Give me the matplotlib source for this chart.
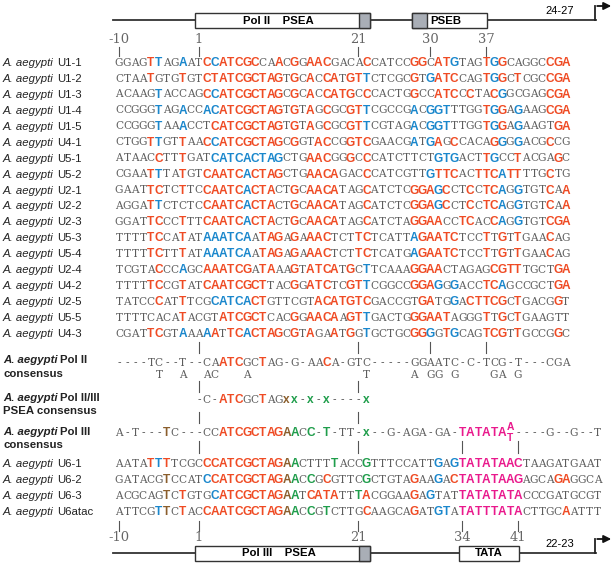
import matplotlib
matplotlib.use('Agg')
import matplotlib.pyplot as plt
from matplotlib.patches import Rectangle

# ---- data: Pol II type snRNA genes (57 nt, positions -10..47) ----
pol2_names = ['U1-1', 'U1-2', 'U1-3', 'U1-4', 'U1-5', 'U4-1', 'U5-1', 'U5-2',
              'U2-1', 'U2-2', 'U2-3', 'U5-3', 'U5-4', 'U2-4', 'U4-2', 'U2-5',
              'U5-5', 'U4-3']
pol2_seqs = [
    'GGAGTTAGAATCCATCGCCAACGGAACGACACCATCCGGCATGTAGTGGCAGGCCGA',
    'CTAATGTGTGTCTATCGCTAGTGCACCATGTTCTCGCGTGATCCAGTGGCTCGCCGA',
    'ACAAGTACCAGCCATCGCTAGCGCACCATGCCCACTGGCCATCCCTACGGCGAGCGA',
    'CCGGGTAGACCACATCGCTAGTGTAGCGCGTTCGCCGACGGTTTGGTGGAGAAGCGA',
    'CCGGGTAAACCTCATCGCTAGTGTAGCGCGTTCGTAGACGGTTTGGTGGAGAAGTGA',
    'CTGGTTGTTAACCATCGCTAGCGGTACCGGTCGAACGATGAGCCACAGGGGACGCCG',
    'ATAACCTTTGATCATCACTAGCTGAACGGGCCCATCTTCTGTGACTTGCCTACGAGC',
    'CGAATTTATGTCAATCACTAGCTGAACAGACCCATCGTTGTTCACTTCATTTTGCTG',
    'GAATTCTCTTCCAATCACTACTGCAACATAGCATCTCGGAGCCTCCTCAGGTGTCAA',
    'AGGATTCTCTCCAATCACTACTGCAACATAGCATCTCGGAGCCTCCTCAGGTGTCAA',
    'GGATTCCCTTTCAATCACTACTGCAACATAGCATCTAGGAACCTCACCAGGTGTCGA',
    'TTTTTCCATATAAATCAATAGAGAAACTCTTCTCATTAGAATCTCCTTGTTGAACAG',
    'TTTTTCTTTATAAATCAATAGAGAAACTCTTCTCATGAGAATCTCCTTGTTGAACAG',
    'TCGTACCCAGCAAATCGATAAAGTATCATGCTTCAAAGGAACTAGAGCGTTTGCTGA',
    'TTTTTCCGTATCAATCGCTTACGGATCTCGTTCGGCCGGAGGGACCTCAGCCGCTGA',
    'TATCCCATTTCGCATCACTGTTCGTACATGTCGACCGTGATGGACTTCGCTGACGGT',
    'TTTTCACATACGTATCGCTCACGGAACAAGTTGACTGGGAATAGGGTTGCTGAAGTT',
    'CGATTCGTAAAAATTCACTAGCGTAGAATGGTGCTGCGGGGTGCAGTCGTTGCCGGC',
]
# highlight code per base: . plain, r red, b blue, g green, n brown, m magenta
pol2_marks = [
    '....rb..b..rbrrrrr..r.r.rrr....r.....rr.rrb...rbr.....rrr',
    '....r...r..rrrrrrrrrr.r.r.rr.rrb.....r.brrr...rbr.r...rrr',
    '.....b.....rbrrrrrrrr.r.r.rrrr.r.....r..rrr.r..rb.....rrr',
    '.....b..b..bbrrrrrrrr.r.r.r..rrb.....b.bbb....rbr.b...rrr',
    '.....b..b...rrrrrrrrr.r.r.r..rrb.....b.bbb....rbr.b....rr',
    '....rb..r..rbrrrrrrrr.r..rr..rrr.....b.br.r....rb.b...r..',
    '.....r..r...bbbbbbbbb...rrr..r.r........bbb...rb..r....r.',
    '....rb..r..rrrrrbrrrr...rrrr...r.......brrr..rrrbrr...r..',
    '....rr..r..rrrrrbrrr..r.rrrr...r.....rrrbr..r.rrb.b...r.r',
    '....rb.....rrrrrbrrr..r.rrrr...r.....rrrbr..r.rrb.b...r.r',
    '....rr..r..rrrrrbrrr..r.rrrr...r.....rrrr..rr..rb.b...rrr',
    '....rr..r..bbbbbb.rrr.r.rrr...rr.....brrrrr...r.r.r...r..',
    '....rr..r..bbbbbb.rrr.r.rrr...rr.....brrrrr...r.r.r...r..',
    '.....r..b..rrrrrr.rr..r.rrrr.r.b.....rrrr......rrrr....rr',
    '....rr..r..rrrrrrrr...r.rrr..rrb.....rrrb.b...rrb......rr',
    '.....r..r...bbbbbrr......rrrrrrr......rr..b.rrrrr.r....r.',
    '........r....rrrrrr...r.rrrr.rrb.....rrrrr....r.r.r......',
    '....rr..b..br.rrbrrrr.r.r..r.r.b.....rrb.rb...rrr.r....r.',
]

# ---- Pol III type genes (61 nt) ----
pol3_names = ['U6-1', 'U6-2', 'U6-3', 'U6atac']
pol3_seqs = [
    'AATATTTTCGCCCATCGCTAGAACTTTTACCGTTTCCATTGAGTATATAACTAAGATGAAT',
    'GATACGTCCATCCATCGCTAGAACCGCGTTCGCTGTAGAAGACTATATAAGAGCAGAGGCA',
    'ACGCAGTCTGTGCATCGCTAGAATCATATTTACGGAAGAGTATTATATATACCCGATGCGT',
    'ATTCGTTCTACCAATCGCTAGAACCGTCTTGCAAGCAGATGTATATTTATACTTGCAATTT',
]
pol3_marks = [
    '....rbr....rrrrrrrrrrng....g...g........b.bmmmmmmmm..........',
    '......n....brrrrrrrrrng.g.r....g.....r..b.rmmmmmmmm....rr....',
    '......n.r...brrrrrrrrng.rrrr..gr.....r.b...mmmmmmmm..........',
    '.....bn.r..rrrrrrrrrrng.g.g....r.....r..bb.mmmmmmmm.....r....',
]

# ---- consensus lines ----
cons2_seq = '----TC--T--CAATCGCTAG-G-AACA-GTC-----GGAATC-C-TCG-T---CGA'
cons2_mark = '.............rrr..r.......r..............................'
cons2_alt = '     T  A  AC   A' + ' ' * 14 + 'T     A GG G    GA G      '
psea_seq = '          -C-ATCGCTAGxx-x-x----x'
psea_mark = '.............rrr..r..ng.g.g....g'
cons3_seq = 'A-T---TC---CCATCGCTAGAACC-T-TT-x--G-AGA-GA-TATATA ----G--G--T'
cons3_mark = '......n......rrrrrrrrng.g.g....g...........mmmmmmm...........'
cons3_stack = ('A', 'T')   # degenerate base at position 40

top_ticks = [-10, 1, 21, 30, 37]
bot_ticks = [-10, 1, 21, 34, 41]

# ---- layout ----
X0, CW = 115.0, 7.98
COL = {'r': '#ef4b24', 'b': '#1a87cc', 'g': '#1f9d4b', 'n': '#8b5e2c', 'm': '#e9198c'}
GRAY = '#5c5c5c'
SANS = 'Liberation Sans'


def idx(p):
    return p + 10 if p < 0 else p + 9


def cx(i):
    return X0 + CW * (i + 0.5)


fig = plt.figure(figsize=(6.15, 5.66), dpi=100)
ax = fig.add_axes([0, 0, 1, 1])
ax.set_xlim(0, 615)
ax.set_ylim(566, 0)
ax.axis('off')
renderer = fig.canvas.get_renderer()


def seq_row(y, seq, marks):
    for i, (ch, mk) in enumerate(zip(seq, marks)):
        if ch == ' ':
            continue
        if mk == '.':
            ax.text(cx(i), y + 3.6, ch, fontsize=7.6, family='DejaVu Serif',
                    color=GRAY, ha='center', va='baseline')
        else:
            ax.text(cx(i), y + 4.0, ch, fontsize=8.6, family=SANS, weight='bold',
                    color=COL[mk], ha='center', va='baseline')


def label(y, rest, bold=False):
    w = 'bold' if bold else 'normal'
    t = ax.text(3, y + 4, 'A. aegypti', fontsize=8.2, family=SANS, style='italic',
                weight=w, color='#222222', va='baseline')
    bb = t.get_window_extent(renderer)
    ax.text(3 + bb.width + 3, y + 4, rest, fontsize=8.2, family=SANS, weight=w,
            color='#222222', va='baseline')


def ticks(positions, y0, y1):
    for i in positions:
        ax.plot([cx(i), cx(i)], [y0, y1], color='#555555', lw=0.8)


def diagram(yl, boxes, label_txt):
    ax.plot([113, 596], [yl, yl], color='#333333', lw=1.3)
    for (i0, i1, g0, g1, txt) in boxes:
        xa, xb = X0 + CW * i0, X0 + CW * i1
        ax.add_patch(Rectangle((xa, yl - 7.5), xb - xa, 15, fc='white', ec='#333333', lw=1.0, zorder=3))
        if g0 is not None:
            ga, gb = X0 + CW * g0, X0 + CW * g1
            ax.add_patch(Rectangle((ga, yl - 7.5), gb - ga, 15, fc='#a9aeb6', ec='#333333', lw=1.0, zorder=4))
        ax.text((xa + xb) / 2 + (0 if g0 is None else -4), yl + 0.5, txt, fontsize=8.2,
                family=SANS, weight='bold', ha='center', va='center', zorder=5)
    ax.plot([595, 595], [yl, yl - 14], color='#222222', lw=1.3)
    ax.annotate('', xy=(614, yl - 14), xytext=(594.4, yl - 14),
                arrowprops=dict(arrowstyle='-|>', color='#111111', lw=1.3, mutation_scale=11))
    ax.text(560, yl - 6, label_txt, fontsize=8, family=SANS, ha='center', va='baseline')


# top gene diagram
diagram(20, [(10, 32, 30.6, 32, 'Pol II    PSEA'), (37.2, 46.6, 37.2, 39.1, 'PSEB')], '24-27')
for p in top_ticks:
    ax.text(cx(idx(p)), 43, str(p), fontsize=9.4, family='DejaVu Serif',
            color='#666666', ha='center', va='baseline')
ticks([idx(p) for p in top_ticks], 47, 56)

# Pol II rows
row_y = [62 + 15.94 * k for k in range(len(pol2_seqs))]
for y, name, s, m in zip(row_y, pol2_names, pol2_seqs, pol2_marks):
    label(y, name)
    seq_row(y, s, m)

ticks([idx(p) for p in [1, 21, 30, 37]], 342, 353)

# Pol II consensus
label(359, 'Pol II', bold=True)
ax.text(3, 377, 'consensus', fontsize=8.2, family=SANS, weight='bold', color='#222222', va='baseline')
seq_row(362, cons2_seq, cons2_mark)
seq_row(374, cons2_alt, '.' * len(cons2_alt))
ticks([idx(1), idx(21)], 381, 392)

# Pol II/III PSEA consensus
label(397, 'Pol II/III', bold=True)
ax.text(3, 414, 'PSEA consensus', fontsize=8.2, family=SANS, weight='bold', color='#222222', va='baseline')
seq_row(399, psea_seq, psea_mark)
ticks([idx(1), idx(21)], 412, 423)

# Pol III consensus
label(431, 'Pol III', bold=True)
ax.text(3, 448, 'consensus', fontsize=8.2, family=SANS, weight='bold', color='#222222', va='baseline')
seq_row(432, cons3_seq, cons3_mark)
k = cons3_seq.index(' ')
ax.text(cx(k), 430, cons3_stack[0], fontsize=7.4, family=SANS, weight='bold', color=COL['m'], ha='center', va='baseline')
ax.text(cx(k), 441, cons3_stack[1], fontsize=7.4, family=SANS, weight='bold', color=COL['m'], ha='center', va='baseline')
ticks([idx(p) for p in [1, 21, 34, 41]], 441, 453)

# Pol III rows
row3_y = [463 + 16 * k for k in range(len(pol3_seqs))]
for y, name, s, m in zip(row3_y, pol3_names, pol3_seqs, pol3_marks):
    label(y, name)
    seq_row(y, s, m)

ticks([idx(p) for p in bot_ticks], 521, 531)
for p in bot_ticks:
    ax.text(cx(idx(p)), 541, str(p), fontsize=9.4, family='DejaVu Serif',
            color='#666666', ha='center', va='baseline')
diagram(553, [(10, 32, 30.6, 32, 'Pol III    PSEA'), (43.1, 50.6, None, None, 'TATA')], '22-23')

fig.savefig('out.png', dpi=100)
